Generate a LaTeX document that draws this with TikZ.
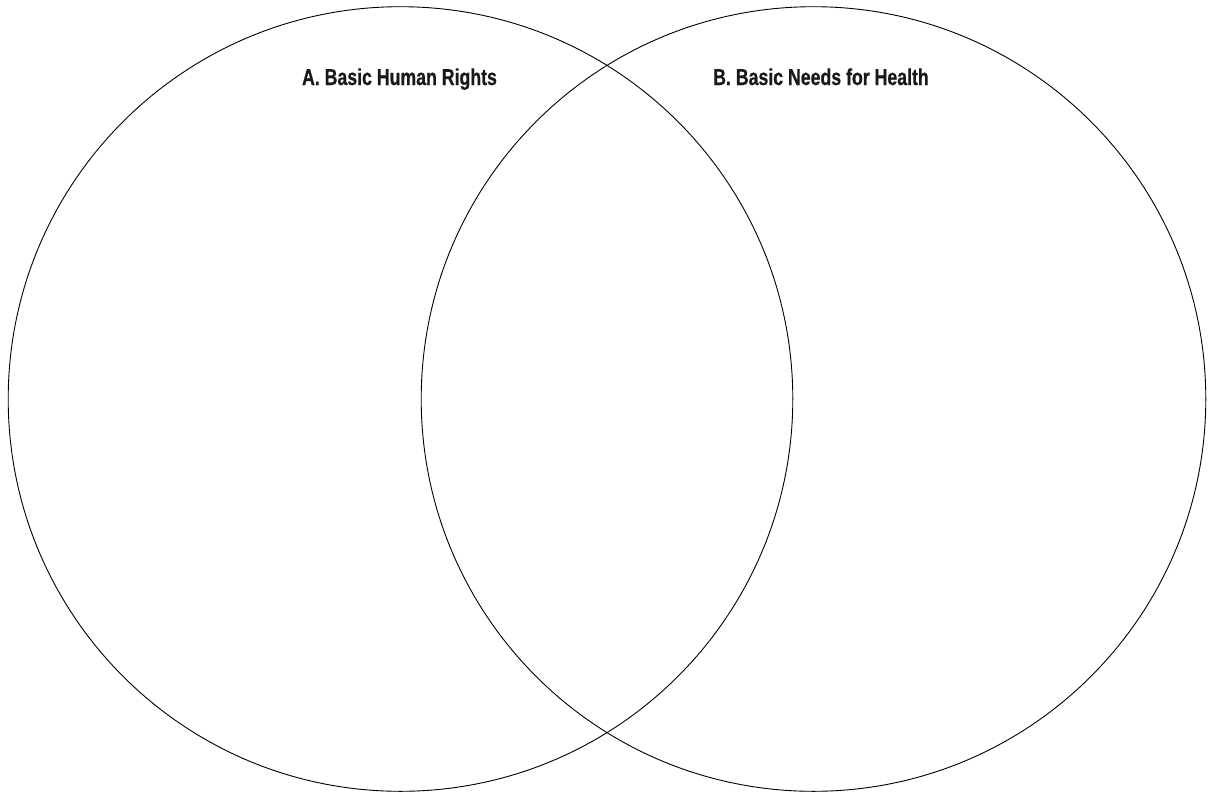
\documentclass[tikz,border=0pt]{standalone}
\usepackage{fontspec}
\setmainfont{Liberation Sans}[FakeStretch=0.77,FakeBold=0.6]
\begin{document}
\begin{tikzpicture}[x=1pt,y=-1pt,
  ring/.style={draw=black,line width=0.9pt},
  title/.style={font=\bfseries\fontsize{23}{25}\selectfont,text=black!90,anchor=base,inner sep=0pt}]
\useasboundingbox[fill=white] (0,0) rectangle (1211,793);
\draw[ring] (400.5,399) circle (392.3);
\draw[ring] (813.5,399) circle (392.3);
\node[title] (a) at (399.5,85) {A. Basic Human Rights};
\node[title] (b) at (821,85) {B. Basic Needs for Health};
\end{tikzpicture}
\end{document}
